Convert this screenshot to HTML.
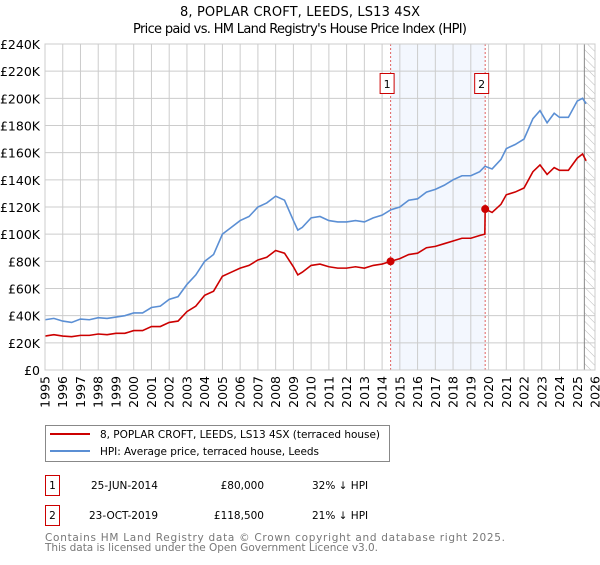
<!DOCTYPE html>
<html><head><meta charset="utf-8"><style>
body{margin:0;background:#fff;width:600px;height:560px;overflow:hidden}
text{font-family:"DejaVu Sans","Liberation Sans",sans-serif}
</style></head><body>
<svg id="c" width="600" height="560" xmlns="http://www.w3.org/2000/svg">
<defs><pattern id="hatch" width="6" height="6" patternUnits="userSpaceOnUse" patternTransform="rotate(-45)"><line x1="0" y1="0" x2="0" y2="6" stroke="#bbb" stroke-width="1"/></pattern></defs>
<text x="300" y="16" text-anchor="middle" font-size="13" textLength="240">8, POPLAR CROFT, LEEDS, LS13 4SX</text>
<text x="300" y="33" text-anchor="middle" font-size="13" textLength="334">Price paid vs. HM Land Registry's House Price Index (HPI)</text>
<g id="plot"></g>
<g>
<rect x="45.5" y="425.5" width="344" height="36" fill="#fff" stroke="#888"/>
<line x1="50" y1="434" x2="90" y2="434" stroke="#cc0000" stroke-width="2"/>
<text x="100" y="438" font-size="10.5" textLength="280">8, POPLAR CROFT, LEEDS, LS13 4SX (terraced house)</text>
<line x1="50" y1="451" x2="90" y2="451" stroke="#5b8fd4" stroke-width="2"/>
<text x="100" y="455" font-size="10.5" textLength="219">HPI: Average price, terraced house, Leeds</text>
</g>
<g font-size="10.5">
<rect x="45.5" y="475.5" width="14" height="20" fill="#fff" stroke="#c00"/><text x="52.5" y="489" text-anchor="middle">1</text>
<text x="91" y="489">25-JUN-2014</text><text x="264" y="489" text-anchor="end">£80,000</text><text x="312" y="489">32% ↓ HPI</text>
<rect x="45.5" y="505.5" width="14" height="20" fill="#fff" stroke="#c00"/><text x="52.5" y="519" text-anchor="middle">2</text>
<text x="89" y="519">23-OCT-2019</text><text x="264" y="519" text-anchor="end">£118,500</text><text x="312" y="519">21% ↓ HPI</text>
</g>
<text x="45" y="541" font-size="10.5" fill="#777" textLength="460">Contains HM Land Registry data © Crown copyright and database right 2025.</text>
<text x="45" y="551" font-size="10.5" fill="#777" textLength="333">This data is licensed under the Open Government Licence v3.0.</text>
</svg>
<script>
const yTicks=[0,20,40,60,80,100,120,140,160,180,200,220,240];
const yTickLabels=["£0","£20K","£40K","£60K","£80K","£100K","£120K","£140K","£160K","£180K","£200K","£220K","£240K"];
const xYears=[1995,1996,1997,1998,1999,2000,2001,2002,2003,2004,2005,2006,2007,2008,2009,2010,2011,2012,2013,2014,2015,2016,2017,2018,2019,2020,2021,2022,2023,2024,2025,2026];
const hpiT=[1995,1995.5,1996,1996.5,1997,1997.5,1998,1998.5,1999,1999.5,2000,2000.5,2001,2001.5,2002,2002.5,2003,2003.5,2004,2004.5,2005,2005.5,2006,2006.5,2007,2007.5,2008,2008.5,2009,2009.25,2009.5,2010,2010.5,2011,2011.5,2012,2012.5,2013,2013.5,2014,2014.5,2015,2015.5,2016,2016.5,2017,2017.5,2018,2018.5,2019,2019.5,2019.8,2020.2,2020.7,2021,2021.5,2022,2022.5,2022.9,2023.3,2023.7,2024,2024.5,2025,2025.3,2025.5];
const hpiV=[37,38,36,35,37.5,37,38.5,38,39,40,42,42,46,47,52,54,63,70,80,85,100,105,110,113,120,123,128,125,110,103,105,112,113,110,109,109,110,109,112,114,118,120,125,126,131,133,136,140,143,143,146,150,148,155,163,166,170,185,191,182,189,186,186,198,200,196];
const priceT=[1995,1995.5,1996,1996.5,1997,1997.5,1998,1998.5,1999,1999.5,2000,2000.5,2001,2001.5,2002,2002.5,2003,2003.5,2004,2004.5,2005,2005.5,2006,2006.5,2007,2007.5,2008,2008.5,2009,2009.25,2009.5,2010,2010.5,2011,2011.5,2012,2012.5,2013,2013.5,2014,2014.48,2015,2015.5,2016,2016.5,2017,2017.5,2018,2018.5,2019,2019.5,2019.79,2019.81,2020.2,2020.7,2021,2021.5,2022,2022.5,2022.9,2023.3,2023.7,2024,2024.5,2025,2025.3,2025.5];
const priceV=[25,26,25,24.5,25.5,25.5,26.5,26,27,27,29,29,32,32,35,36,43,47,55,58,69,72,75,77,81,83,88,86,76,70,72,77,78,76,75,75,76,75,77,78,80,82,85,86,90,91,93,95,97,97,99,100,118.5,116,122,129,131,134,146,151,144,149,147,147,156,159,154];
const sales=[{t:2014.48,v:80,n:"1"},{t:2019.81,v:118.5,n:"2"}];
const X0=45,X1=595,Y0=370,Y1=44;
const sx=t=>X0+(t-1995)/(2026-1995)*(X1-X0);
const sy=v=>Y0-v/240*(Y0-Y1);
const NS="http://www.w3.org/2000/svg";
const g=document.getElementById('plot');
function mk(tag,a,p){const e=document.createElementNS(NS,tag);for(const k in a)e.setAttribute(k,a[k]);(p||g).appendChild(e);return e;}
const band=mk('rect',{x:sx(2014.48),y:Y1,width:sx(2019.81)-sx(2014.48),height:Y0-Y1,fill:'#eef3fd',opacity:0.7});


const hatch=mk('rect',{x:sx(2025.4),y:Y1,width:X1-sx(2025.4),height:Y0-Y1,fill:'url(#hatch)'});


yTicks.forEach((v,i)=>{
 const l=mk('line',{x1:X0,x2:X1,y1:sy(v),y2:sy(v),stroke:'#ccc'});
 
 
 const t=mk('text',{x:40,y:sy(v)+5,'text-anchor':'end','font-size':'12.5'});t.textContent=yTickLabels[i];
 
 
});
xYears.forEach(y=>{
 const l=mk('line',{x1:sx(y),x2:sx(y),y1:Y1,y2:Y0,stroke:'#ccc'});
 
 
 const t=mk('text',{x:0,y:0,'text-anchor':'end','font-size':'12.5',transform:`translate(${sx(y)+4.5},${Y0+6}) rotate(-90)`});t.textContent=y;
 
 
});
const vl=mk('line',{x1:sx(2025.4),x2:sx(2025.4),y1:Y1,y2:Y0,stroke:'#888'});


sales.forEach(s=>{
 const l=mk('line',{x1:sx(s.t),x2:sx(s.t),y1:Y1,y2:Y0,stroke:'#e06060','stroke-dasharray':'2,2'});
 
 
 const r=mk('rect',{x:sx(s.t)-10.5,y:73.5,width:14,height:20,fill:'#fff',stroke:'#c00'});
 
 
 const t=mk('text',{x:sx(s.t)-3.5,y:88,'text-anchor':'middle','font-size':'11'});t.textContent=s.n;
 
 
});
const hp=mk('polyline',{points:hpiT.map((t,i)=>sx(t)+','+sy(hpiV[i])).join(' '),fill:'none',stroke:'#5b8fd4','stroke-width':1.6});


const pp=mk('polyline',{points:priceT.map((t,i)=>sx(t)+','+sy(priceV[i])).join(' '),fill:'none',stroke:'#cc0000','stroke-width':1.6});


sales.forEach(s=>{
 const c=mk('circle',{cx:sx(s.t),cy:sy(s.v),r:4,fill:'#cc0000'});
 
 
});
const fr=mk('rect',{x:X0,y:Y1,width:X1-X0,height:Y0-Y1,fill:'none',stroke:'#ccc'});


</script>
</body></html>
